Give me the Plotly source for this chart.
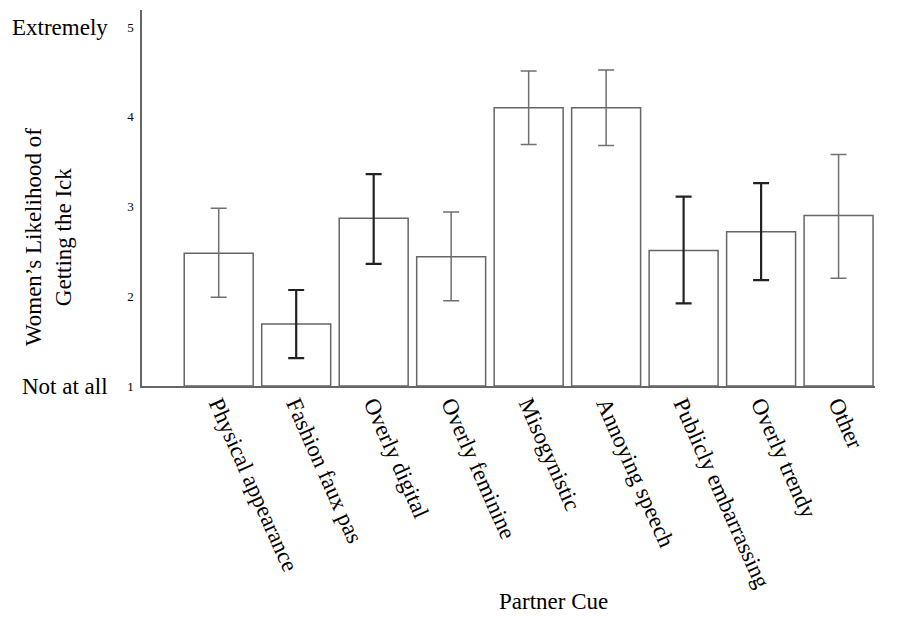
import plotly.graph_objects as go

categories = ["Physical appearance", "Fashion faux pas", "Overly digital", "Overly feminine",
              "Misogynistic", "Annoying speech", "Publicly embarrassing", "Overly trendy", "Other"]
means = [2.48, 1.69, 2.87, 2.44, 4.10, 4.10, 2.51, 2.72, 2.90]
err_upper = [2.98, 2.07, 3.36, 2.94, 4.51, 4.52, 3.11, 3.26, 3.58]
err_lower = [1.99, 1.31, 2.36, 1.95, 3.69, 3.68, 1.92, 2.18, 2.20]
dark_err = [False, True, True, False, False, False, True, True, False]
y_ticks = [1, 2, 3, 4, 5]

xs = list(range(len(categories)))
fig = go.Figure()
fig.add_trace(go.Bar(
    x=xs, y=[m - 1 for m in means], base=1, width=0.89,
    marker=dict(color="white", line=dict(color="#666666", width=1.5)),
    showlegend=False, hoverinfo="skip"))

for dark in (False, True):
    idx = [i for i in xs if dark_err[i] == dark]
    fig.add_trace(go.Scatter(
        x=[xs[i] for i in idx], y=[means[i] for i in idx], mode="markers",
        marker=dict(size=1, color="rgba(0,0,0,0)"),
        error_y=dict(type="data", symmetric=False,
                     array=[err_upper[i] - means[i] for i in idx],
                     arrayminus=[means[i] - err_lower[i] for i in idx],
                     color="#222222" if dark else "#707070",
                     thickness=2.2 if dark else 1.5, width=8),
        showlegend=False, hoverinfo="skip"))

font = "Liberation Serif, Times New Roman, serif"
fig.update_layout(
    width=897, height=609, paper_bgcolor="white", plot_bgcolor="white",
    margin=dict(l=134, r=30, t=2, b=231),
    font=dict(family=font, color="black"),
    xaxis=dict(range=[-0.99, 8.47], tickvals=xs, ticktext=categories, tickangle=66,
               tickfont=dict(size=23, family=font), showline=True, linecolor="#666666",
               linewidth=1.5, ticks="", showgrid=False, zeroline=False, ticklabelstandoff=-6),
    yaxis=dict(range=[1, 5.19], tickvals=y_ticks, ticktext=[str(t) for t in y_ticks],
               tickfont=dict(size=13, family=font), showline=True, linecolor="#666666",
               linewidth=1.5, ticks="", showgrid=False, zeroline=False, ticklabelstandoff=4),
    annotations=[
        dict(text="Extremely", xref="paper", yref="y", x=0, xshift=-32, y=5, xanchor="right",
             yanchor="middle", showarrow=False, font=dict(size=23, family=font)),
        dict(text="Not at all", xref="paper", yref="y", x=0, xshift=-32, y=1, xanchor="right",
             yanchor="middle", showarrow=False, font=dict(size=23, family=font)),
        dict(text="Women’s Likelihood of<br>Getting the Ick", xref="paper", yref="paper",
             x=0, xshift=-94, y=0.396, xanchor="center", yanchor="middle", textangle=-90,
             showarrow=False, font=dict(size=23, family=font)),
        dict(text="Partner Cue", xref="paper", yref="paper", x=0.562, y=-0.574,
             xanchor="center", yanchor="middle", showarrow=False,
             font=dict(size=23, family=font)),
    ],
)
fig.write_html("out.html")
